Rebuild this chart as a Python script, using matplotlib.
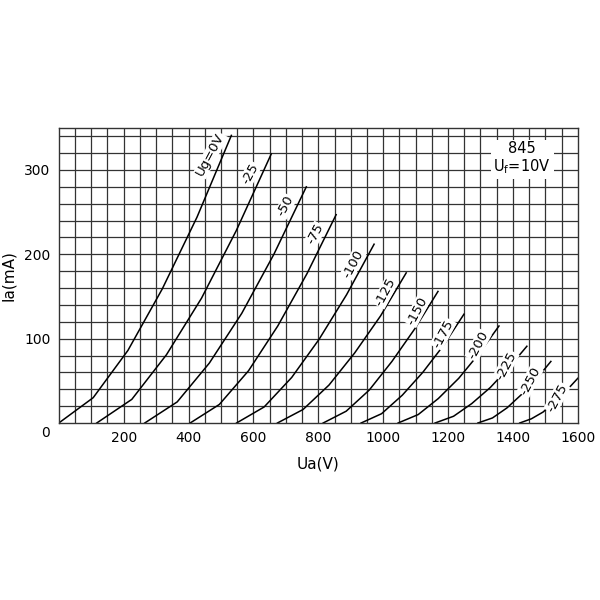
import numpy as np
import matplotlib.pyplot as plt

# anode characteristics of the 845 triode
grid_labels = ['Ug=0V', '-25', '-50', '-75', '-100', '-125', '-150',
               '-175', '-200', '-225', '-250', '-275']
ua = [
    [0, 106, 213, 319, 426, 532],
    [117, 225, 332, 440, 547, 655],
    [265, 365, 464, 564, 663, 763],
    [405, 495, 585, 675, 765, 855],
    [548, 633, 718, 802, 887, 972],
    [674, 753, 833, 912, 992, 1071],
    [815, 886, 957, 1027, 1098, 1169],
    [932, 995, 1059, 1122, 1186, 1249],
    [1046, 1108, 1170, 1233, 1295, 1357],
    [1160, 1217, 1273, 1330, 1386, 1443],
    [1292, 1337, 1382, 1427, 1472, 1517],
    [1421, 1457, 1493, 1528, 1564, 1600],
]
ia = [
    [0, 30, 86, 159, 244, 341],
    [0, 28, 81, 148, 228, 319],
    [0, 25, 71, 130, 200, 280],
    [0, 22, 62, 115, 177, 247],
    [0, 19, 54, 99, 152, 212],
    [0, 16, 45, 83, 127, 178],
    [0, 14, 39, 73, 112, 156],
    [0, 11, 33, 60, 92, 129],
    [0, 10, 29, 53, 82, 115],
    [0, 8, 23, 42, 65, 91],
    [0, 6, 18, 34, 52, 73],
    [0, 5, 13, 25, 38, 53],
]
x_ticks = [200, 400, 600, 800, 1000, 1200, 1400, 1600]
y_ticks = [100, 200, 300]

fig = plt.figure(figsize=(6, 6), dpi=100)
ax = fig.add_axes([0.098, 0.295, 0.865, 0.492])
ax.set_xlim(0, 1600)
ax.set_ylim(0, 350)

# graph-paper grid
for gx in np.arange(50, 1600, 50):
    ax.axvline(gx, color='#333333', lw=0.9, zorder=0)
for gy in np.arange(20, 350, 20):
    ax.axhline(gy, color='#333333', lw=0.9, zorder=0)

ax.set_xticks(x_ticks)
ax.set_yticks(y_ticks)
ax.tick_params(length=0, labelsize=10, pad=6)
for s in ax.spines.values():
    s.set_color('#333333')
    s.set_linewidth(1.0)

for xs, ys, lab in zip(ua, ia, grid_labels):
    ax.plot(xs, ys, color='black', lw=1.1, zorder=2)
    ax.annotate(lab, xy=(xs[-1], ys[-1]), xytext=(-15, -14), textcoords='offset points',
                rotation=62, fontsize=9.5, ha='center', va='center', zorder=3,
                bbox=dict(boxstyle='square,pad=0.05', fc='white', ec='none'))

ax.text(0.893, 0.895, '845\n$\\mathregular{U_f}$=10V', transform=ax.transAxes,
        ha='center', va='center', fontsize=10.5, linespacing=1.1, zorder=3,
        bbox=dict(boxstyle='square,pad=0.2', fc='white', ec='none'))

fig.text(0.075, 0.278, '0', ha='center', va='center', fontsize=10)
ax.set_xlabel('Ua(V)', fontsize=11, labelpad=8)
ax.set_ylabel('Ia(mA)', fontsize=11, labelpad=6)

fig.savefig('out.png')
